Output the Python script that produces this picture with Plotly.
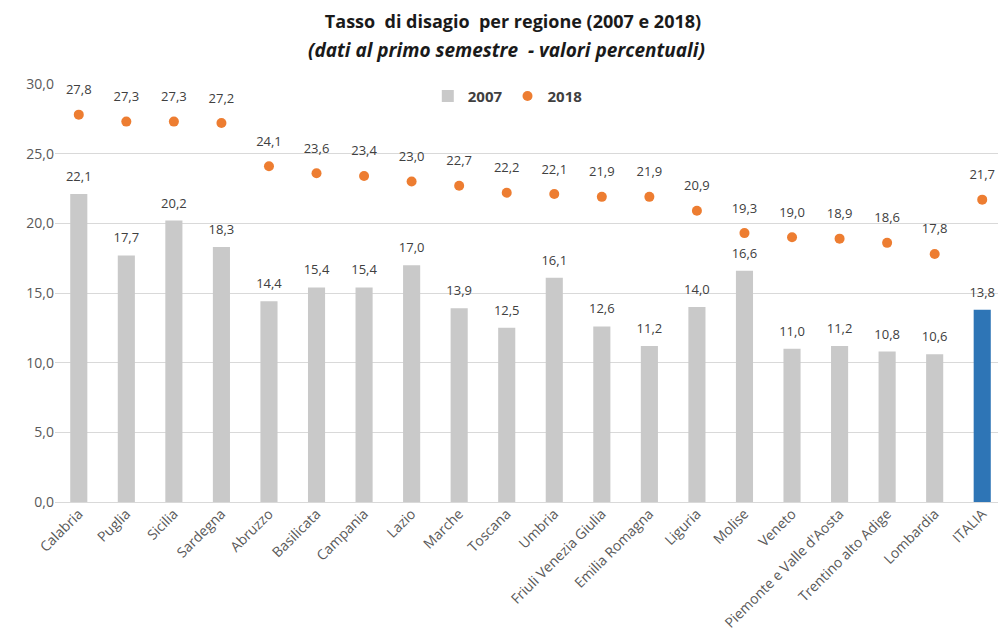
import plotly.graph_objects as go

regions = ["Calabria", "Puglia", "Sicilia", "Sardegna", "Abruzzo", "Basilicata", "Campania",
           "Lazio", "Marche", "Toscana", "Umbria", "Friuli Venezia Giulia", "Emilia Romagna",
           "Liguria", "Molise", "Veneto", "Piemonte e Valle d'Aosta", "Trentino alto Adige",
           "Lombardia", "ITALIA"]
v2007 = [22.1, 17.7, 20.2, 18.3, 14.4, 15.4, 15.4, 17.0, 13.9, 12.5, 16.1, 12.6, 11.2,
         14.0, 16.6, 11.0, 11.2, 10.8, 10.6, 13.8]
v2018 = [27.8, 27.3, 27.3, 27.2, 24.1, 23.6, 23.4, 23.0, 22.7, 22.2, 22.1, 21.9, 21.9,
         20.9, 19.3, 19.0, 18.9, 18.6, 17.8, 21.7]
yticks = [0, 5, 10, 15, 20, 25, 30]

def fmt(v):
    return f"{v:.1f}".replace(".", ",")

bar_colors = ["#C9C9C9"] * (len(regions) - 1) + ["#2E75B6"]
font_main = "Open Sans"
label_font = dict(size=13, color="#404040", family=font_main)

fig = go.Figure()
fig.add_trace(go.Bar(
    x=regions, y=v2007, name="<b>2007</b>", marker=dict(color=bar_colors, line=dict(width=0)),
    width=0.36,
))
fig.add_trace(go.Scatter(
    x=regions, y=v2018, name="<b>2018</b>", mode="markers",
    marker=dict(color="#ED7D31", size=10),
))
# data labels (transparent markers used only to set label offset)
fig.add_trace(go.Scatter(
    x=regions, y=v2007, mode="markers+text", showlegend=False, hoverinfo="skip",
    marker=dict(color="rgba(0,0,0,0)", size=14),
    text=[fmt(v) for v in v2007], textposition="top center",
    textfont=label_font, cliponaxis=False,
))
fig.add_trace(go.Scatter(
    x=regions, y=v2018, mode="markers+text", showlegend=False, hoverinfo="skip",
    marker=dict(color="rgba(0,0,0,0)", size=26),
    text=[fmt(v) for v in v2018], textposition="top center",
    textfont=label_font, cliponaxis=False,
))

fig.update_layout(
    width=998, height=636,
    paper_bgcolor="white", plot_bgcolor="white",
    margin=dict(l=47, r=0, t=76, b=142),
    separators=",.",
    title=dict(
        text="<b>Tasso  di disagio  per regione (2007 e 2018)</b>",
        x=0.506, xanchor="center", y=0.978, yanchor="middle",
        font=dict(family=font_main, size=18, color="#1a1a1a"),
    ),
    annotations=[dict(
        text="<b><i>(dati al primo semestre  - valori percentuali)</i></b>",
        x=0.475, xref="paper", xanchor="center", y=1.081, yref="paper", yanchor="middle",
        showarrow=False, font=dict(family=font_main, size=19, color="#1a1a1a"),
    )],
    legend=dict(orientation="h", x=0.392, y=1.01, xanchor="left", yanchor="top",
                font=dict(family=font_main, size=15, color="#404040"),
                bgcolor="rgba(0,0,0,0)", itemwidth=30, traceorder="normal",
                tracegroupgap=0),
    showlegend=True,
)
fig.update_yaxes(range=[0, 30], tickvals=yticks, tickformat=".1f",
                 showgrid=True, gridcolor="#D9D9D9", gridwidth=1,
                 zeroline=True, zerolinecolor="#D9D9D9", zerolinewidth=1,
                 showline=False, ticks="",
                 tickfont=dict(family=font_main, size=14, color="#595959"))
fig.update_xaxes(range=[-0.5, 19.5], tickangle=-45, showgrid=False, showline=False,
                 ticks="", tickfont=dict(family=font_main, size=14, color="#595959"))

fig.write_html("out.html")
